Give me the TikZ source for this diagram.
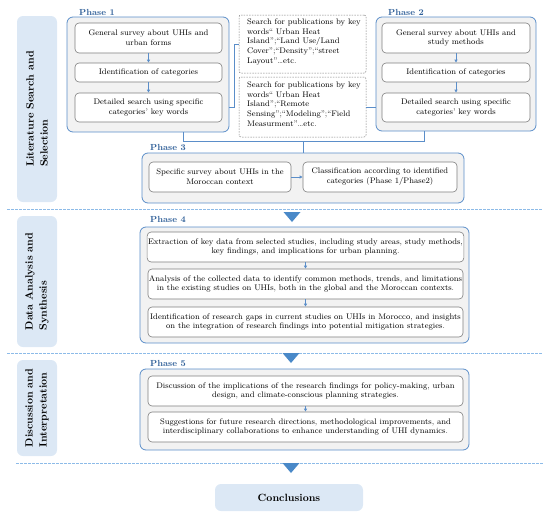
\documentclass[tikz,border=0pt]{standalone}
\usetikzlibrary{arrows.meta}
\definecolor{phaseblue}{HTML}{5B8EC9}
\definecolor{labelblue}{HTML}{2F5F98}
\definecolor{sideblue}{HTML}{DCE8F5}
\definecolor{sepblue}{HTML}{8DBBE8}
\definecolor{triblue}{HTML}{4A89C8}
\definecolor{boxgrey}{HTML}{7F7F7F}
\definecolor{phasefill}{HTML}{F2F2F2}
\begin{document}
\begin{tikzpicture}[x=1pt,y=-1pt,
  phasebox/.style={draw=phaseblue,fill=phasefill,rounded corners=6pt,line width=0.8pt,inner sep=0pt},
  innerbox/.style={draw=boxgrey,fill=white,rounded corners=4pt,line width=0.6pt,inner sep=1pt,align=center,font=\fontsize{8.1}{9.7}\selectfont},
  dbox/.style={draw=boxgrey,dashed,dash pattern=on 1.5pt off 1.2pt,fill=white,rounded corners=2pt,line width=0.5pt,inner sep=0pt},
  dtext/.style={align=left,font=\fontsize{8.1}{9.7}\selectfont,inner sep=0pt,anchor=north west},
  sidebox/.style={fill=sideblue,rounded corners=6pt,inner sep=0pt},
  sidetext/.style={rotate=90,align=left,font=\fontsize{10.5}{14}\selectfont\bfseries},
  sep/.style={draw=sepblue,dash pattern=on 2.5pt off 1.5pt,line width=0.7pt},
  tri/.style={fill=triblue},
  conn/.style={draw=phaseblue,line width=0.7pt},
  sarrow/.style={draw=phaseblue,line width=0.7pt,-{Latex[length=3pt,width=3.5pt]}},
  phaselabel/.style={anchor=west,text=labelblue,font=\fontsize{8.8}{10}\selectfont\bfseries,inner sep=0pt},
]
\useasboundingbox (0,0) rectangle (550,517);

% side labels
\node[sidebox,minimum width=40pt,minimum height=186pt] (s1) at (37,109) {};
\node[sidetext] (s1t) at (s1.center) {Literature Search and\\Selection};
\node[sidebox,minimum width=40pt,minimum height=131pt] (s2) at (37,281.5) {};
\node[sidetext] (s2t) at (s2.center) {Data Analysis and\\Synthesis};
\node[sidebox,minimum width=40pt,minimum height=96pt] (s3) at (37,408) {};
\node[sidetext] (s3t) at (s3.center) {Discussion and\\Interpretation};

% separators
\coordinate (a1) at (7,209); \coordinate (b1) at (543,209);
\coordinate (a2) at (7,353); \coordinate (b2) at (543,353);
\coordinate (a3) at (16,463); \coordinate (b3) at (543,463);
\draw[sep] (a1) -- (b1);
\draw[sep] (a2) -- (b2);
\draw[sep] (a3) -- (b3);

% Phase 1
\node[phasebox,minimum width=162pt,minimum height=115pt] (ph1) at (148,74.5) {};
\node[phaselabel] (l1) at (79,12) {Phase 1};
\node[innerbox,minimum width=147pt,minimum height=30pt] (p1a) at (148.5,38) {General survey about UHIs and\\urban forms};
\node[innerbox,minimum width=147pt,minimum height=19pt] (p1b) at (148.5,72.5) {Identification of categories};
\node[innerbox,minimum width=147pt,minimum height=29pt] (p1c) at (148.5,107.5) {Detailed search using specific\\categories' key words};
\draw[sarrow] (p1a) -- (p1b);
\draw[sarrow] (p1b) -- (p1c);

% Phase 2
\node[phasebox,minimum width=160pt,minimum height=114pt] (ph2) at (456,74) {};
\node[phaselabel] (l2) at (388,12) {Phase 2};
\node[innerbox,minimum width=148pt,minimum height=30pt] (p2a) at (456,38) {General survey about UHIs and\\study methods};
\node[innerbox,minimum width=148pt,minimum height=19pt] (p2b) at (456,72.5) {Identification of categories};
\node[innerbox,minimum width=148pt,minimum height=29pt] (p2c) at (456,107.5) {Detailed search using specific\\categories' key words};
\draw[sarrow] (p2a) -- (p2b);
\draw[sarrow] (p2b) -- (p2c);

% dashed search boxes
\node[dbox,minimum width=127pt,minimum height=58pt] (d1) at (302.5,44) {};
\node[dtext] (d1t) at (247,18.5) {Search for publications by key\\words`` Urban Heat\\Island'';``Land Use/Land\\Cover'';``Density'';``street\\Layout''\ldots etc.};
\node[dbox,minimum width=127pt,minimum height=60pt] (d2) at (302.5,107) {};
\node[dtext] (d2t) at (247,81.5) {Search for publications by key\\words`` Urban Heat\\Island'';``Remote\\Sensing'';``Modeling'';``Field\\Measurment''\ldots etc.};

% connectors top
\draw[conn] (ph1.east |- p1c.center) -- ++(5,0) |- (d1.west);
\draw[conn] (d2.east) -- (ph2.west |- d2.east);

% Phase 3
\node[phasebox,minimum width=322pt,minimum height=50pt] (ph3) at (303,178) {};
\node[phaselabel] (l3) at (150,147) {Phase 3};
\node[innerbox,minimum width=142pt,minimum height=30pt] (p3a) at (220,177) {Specific survey about UHIs in the\\Moroccan context};
\node[innerbox,minimum width=154pt,minimum height=30pt] (p3b) at (380,177) {Classification according to identified\\categories (Phase 1/Phase2)};
\draw[sarrow] (p3a) -- (p3b);

\coordinate (jl) at (183,141);
\coordinate (jr) at (424,141);
\coordinate (jm) at (303,141);
\draw[conn] (ph1.south -| jl) -- (jl) -- (jr) -- (ph2.south -| jr);
\draw[conn] (jm) -- (ph3.north -| jm);

% triangle 1
\coordinate (t1) at (292,222);
\fill[tri] (283.5,212) -- (300.5,212) -- (t1) -- cycle;

% Phase 4
\node[phasebox,minimum width=329pt,minimum height=116pt] (ph4) at (304.5,285) {};
\node[phaselabel] (l4) at (150,219) {Phase 4};
\node[innerbox,minimum width=315pt,minimum height=30pt] (p4a) at (305.5,247) {Extraction of key data from selected studies, including study areas, study methods,\\key findings, and implications for urban planning.};
\node[innerbox,minimum width=315pt,minimum height=30pt] (p4b) at (305.5,284) {Analysis of the collected data to identify common methods, trends, and limitations\\in the existing studies on UHIs, both in the global and the Moroccan contexts.};
\node[innerbox,minimum width=315pt,minimum height=30pt] (p4c) at (305.5,322) {Identification of research gaps in current studies on UHIs in Morocco, and insights\\on the integration of research findings into potential mitigation strategies.};
\draw[sarrow] (p4a) -- (p4b);
\draw[sarrow] (p4b) -- (p4c);

% triangle 2
\coordinate (t2) at (291,363);
\fill[tri] (282.5,353) -- (299.5,353) -- (t2) -- cycle;

% Phase 5
\node[phasebox,minimum width=329pt,minimum height=81pt] (ph5) at (304.5,409.5) {};
\node[phaselabel] (l5) at (150,363) {Phase 5};
\node[innerbox,minimum width=315pt,minimum height=30pt] (p5a) at (305.5,391) {Discussion of the implications of the research findings for policy-making, urban\\design, and climate-conscious planning strategies.};
\node[innerbox,minimum width=315pt,minimum height=30pt] (p5b) at (305.5,427) {Suggestions for future research directions, methodological improvements, and\\interdisciplinary collaborations to enhance understanding of UHI dynamics.};
\draw[sarrow] (p5a) -- (p5b);

% triangle 3
\coordinate (t3) at (291,473);
\fill[tri] (282.5,463) -- (299.5,463) -- (t3) -- cycle;

% Conclusions
\node[sidebox,minimum width=148pt,minimum height=27pt,font=\fontsize{10.5}{12}\selectfont\bfseries] (conc) at (289,497.5) {Conclusions};
\end{tikzpicture}
\end{document}
